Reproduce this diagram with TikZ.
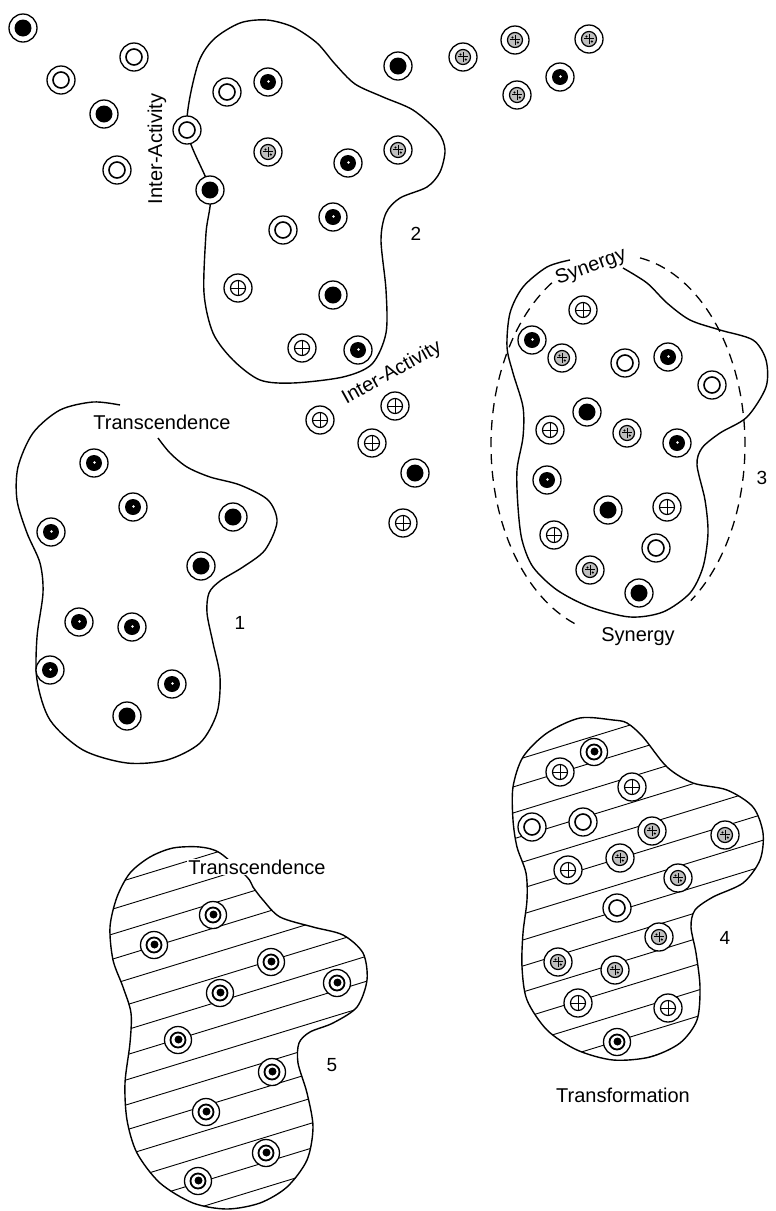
\documentclass[tikz,border=0pt]{standalone}
\usepackage{fontspec}
\setmainfont{Liberation Sans}
\begin{document}
\begin{tikzpicture}[x=1pt, y=-1pt,
  outline/.style={line width=1.4pt},
  ring/.style={draw, fill=white, line width=1.3pt},
  hatch/.style={line width=0.9pt},
  lbl/.style={font=\fontsize{20}{22}\selectfont, inner sep=1pt},
  num/.style={font=\fontsize{19}{21}\selectfont},
  psolid/.pic={\draw[ring] (0,0) circle[radius=14pt]; \fill (0,0) circle[radius=8.5pt];},
  pdot/.pic={\draw[ring] (0,0) circle[radius=14pt]; \fill (0,0) circle[radius=8pt]; \fill[white] (0.5pt,0.5pt) circle[radius=1.3pt];},
  popen/.pic={\draw[ring] (0,0) circle[radius=14pt]; \draw[line width=1.6pt] (0,0) circle[radius=8pt];},
  pplus/.pic={\draw[ring] (0,0) circle[radius=14pt]; \draw[line width=1.2pt] (0,0) circle[radius=7.5pt];
    \draw[line width=0.8pt] (-7.5pt,0) -- (7.5pt,0) (0,-7.5pt) -- (0,7.5pt);},
  pspeck/.pic={\draw[ring] (0,0) circle[radius=14pt]; \draw[line width=1.2pt, fill=black!25] (0,0) circle[radius=7.5pt];
    \draw[line width=0.7pt] (-5pt,0.5pt) -- (5pt,0.5pt) (0.5pt,-5pt) -- (0.5pt,5pt);
    \fill (-2.5pt,2.5pt) circle[radius=1.2pt] (2.8pt,-2.5pt) circle[radius=1.2pt];},
  pblur/.pic={\draw[ring] (0,0) circle[radius=13.5pt]; \draw[line width=1.8pt] (0,0) circle[radius=7.5pt];
    \fill (0.5pt,0.5pt) circle[radius=4pt];}
]
\fill[white] (0,0) rectangle (776,1211);
\useasboundingbox (0,0) rectangle (776,1211);

% cell 2
\draw[outline] plot[smooth cycle] coordinates {(187,130) (197,67) (213,40) (240,23) (267,20) (293,27) (317,43)
  (335,64) (355,84) (383,97) (413,110) (438,132) (445,150) (440,172) (427,187) (400,198) (386,213) (381,240)
  (386,290) (386,333) (372,364) (343,377) (293,383) (260,380) (233,360) (213,333) (204,293) (206,233) (210,190)};

% cell 1
\draw[outline] plot[smooth] coordinates {(120,405) (93,402) (60,410) (33,433) (18,467) (17,500) (27,533)
  (40,563) (43,593) (37,637) (37,680) (50,720) (83,750) (127,763) (167,760) (200,743) (217,713) (220,677)
  (213,643) (207,613) (209,593) (220,581) (243,567) (265,550) (277,522) (268,500) (240,485) (210,477)
  (187,467) (170,453) (158,438)};

% cell 3 and its dashed field
\draw[outline] plot[smooth] coordinates {(570,260) (547,267) (523,287) (510,313) (507,347) (513,373) (523,407)
  (523,437) (517,470) (518,507) (522,540) (533,567) (557,590) (590,607) (630,617) (663,612) (690,593)
  (703,567) (708,533) (705,500) (697,465) (702,448) (720,433) (747,417) (766,387) (766,360) (753,340)
  (720,330) (690,320) (667,303) (647,283) (623,268)};
\draw[line width=1.3pt, dash pattern=on 10pt off 7pt] plot[domain=-80:55, samples=60] ({618+127*cos(\x)},{445+190*sin(\x)});
\draw[line width=1.3pt, dash pattern=on 10pt off 7pt] plot[domain=110:239, samples=60] ({618+127*cos(\x)},{445+190*sin(\x)});

% cell 5, hatched
\begin{scope}
  \clip plot[smooth cycle] coordinates {(220,853) (200,847) (173,848) (150,857) (130,873) (117,897) (110,927)
    (113,960) (123,987) (131,1013) (130,1043) (125,1083) (127,1120) (137,1153) (160,1183) (193,1203) (227,1209)
    (260,1203) (287,1187) (307,1160) (313,1127) (307,1093) (298,1063) (299,1043) (310,1032) (333,1023)
    (357,1007) (367,980) (363,953) (343,935) (313,927) (280,917) (263,900) (253,887) (247,877)};
  \foreach \c in {816,841,...,1316} \draw[hatch] (90,\c) -- (400,\c-95);
\end{scope}
\draw[outline] plot[smooth cycle] coordinates {(220,853) (200,847) (173,848) (150,857) (130,873) (117,897) (110,927)
  (113,960) (123,987) (131,1013) (130,1043) (125,1083) (127,1120) (137,1153) (160,1183) (193,1203) (227,1209)
  (260,1203) (287,1187) (307,1160) (313,1127) (307,1093) (298,1063) (299,1043) (310,1032) (333,1023)
  (357,1007) (367,980) (363,953) (343,935) (313,927) (280,917) (263,900) (253,887) (247,877)};

% cell 4, hatched
\begin{scope}
  \clip plot[smooth cycle] coordinates {(613,720) (580,718) (547,733) (523,757) (513,787) (513,820) (517,847)
    (526,873) (527,900) (523,933) (522,967) (527,1000) (547,1030) (577,1050) (613,1060) (650,1057) (680,1043)
    (697,1020) (700,987) (696,953) (691,927) (695,910) (713,897) (743,883) (760,860) (763,833) (753,807)
    (727,790) (693,783) (667,767) (643,737) (627,723)};
  \foreach \c in {713,739,...,1129} \draw[hatch] (500,\c) -- (780,\c-86);
\end{scope}
\draw[outline] plot[smooth cycle] coordinates {(613,720) (580,718) (547,733) (523,757) (513,787) (513,820) (517,847)
  (526,873) (527,900) (523,933) (522,967) (527,1000) (547,1030) (577,1050) (613,1060) (650,1057) (680,1043)
  (697,1020) (700,987) (696,953) (691,927) (695,910) (713,897) (743,883) (760,860) (763,833) (753,807)
  (727,790) (693,783) (667,767) (643,737) (627,723)};

% particles
\foreach \p in {(23,28),(104,114),(210,190),(333,295),(398,66),(415,473),(233,517),(201,566),(127,716),
  (587,412),(608,510),(639,593)} \pic at \p {psolid};
\foreach \p in {(268,82),(348,163),(333,217),(358,350),(560,77),(94,463),(133,507),(51,532),(79,622),
  (132,627),(50,670),(172,684),(532,340),(668,357),(677,443),(547,480)} \pic at \p {pdot};
\foreach \p in {(134,57),(61,80),(117,170),(187,130),(227,92),(283,230),(625,363),(712,385),(656,548),
  (532,827),(583,822),(617,908)} \pic at \p {popen};
\foreach \p in {(238,288),(302,348),(320,420),(395,406),(372,443),(403,523),(583,310),(550,430),(667,507),
  (554,535),(560,772),(632,787),(568,870),(578,1003),(668,1008)} \pic at \p {pplus};
\foreach \p in {(268,152),(398,150),(463,57),(515,40),(589,39),(517,95),(562,358),(627,433),(590,570),
  (652,831),(725,835),(620,858),(678,878),(659,937),(558,962),(615,970)} \pic at \p {pspeck};
\foreach \p in {(213,915),(154,945),(271,962),(220,993),(337,983),(178,1040),(272,1072),(206,1112),
  (266,1153),(198,1181),(594,752),(617,1042)} \pic at \p {pblur};

% labels
\node[lbl, rotate=90] (inter1) at (157,149) {Inter-Activity};
\node[lbl, rotate=29] (inter2) at (392,373) {Inter-Activity};
\node[lbl] (trans1) at (162,422) {Transcendence};
\node[lbl, fill=white] (trans5) at (257,867) {Transcendence};
\node[lbl, rotate=20] (syn1) at (591,267) {Synergy};
\node[lbl] (syn2) at (638,637) {Synergy};
\node[lbl] (transf) at (623,1095) {Transformation};
\node[num] (n1) at (240,623) {1};
\node[num] (n2) at (416,234) {2};
\node[num] (n3) at (762,478) {3};
\node[num] (n4) at (725,938) {4};
\node[num] (n5) at (332,1065) {5};
\end{tikzpicture}
\end{document}
